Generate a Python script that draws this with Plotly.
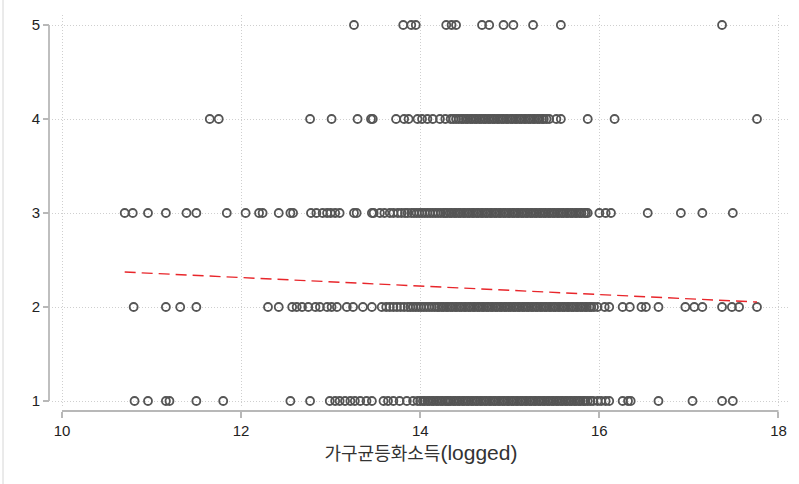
import plotly.graph_objects as go

# ---- data ----
x_level5 = [13.26, 13.81, 13.90, 13.95, 14.29, 14.35, 14.40, 14.69, 14.77, 14.93, 15.04, 15.26, 15.57, 17.37]

x_level4 = [11.65, 11.75, 12.77, 13.01, 13.30, 13.45, 13.47, 13.73, 13.82, 13.87, 13.97, 14.02, 14.08, 14.14, 14.22, 14.28,
            14.34, 14.37, 14.40, 14.43, 14.46, 14.48, 14.51, 14.53, 14.56, 14.58, 14.61, 14.63, 14.66, 14.68, 14.71, 14.73,
            14.76, 14.78, 14.81, 14.83, 14.86, 14.88, 14.91, 14.93, 14.96, 14.98, 15.01, 15.03, 15.06, 15.08, 15.11, 15.13,
            15.16, 15.18, 15.21, 15.23, 15.26, 15.28, 15.31, 15.33, 15.36, 15.38, 15.41, 15.44,
            15.52, 15.57, 15.87, 16.17, 17.76]

x_level3 = [10.70, 10.79, 10.96, 11.16, 11.39, 11.50, 11.84, 12.05, 12.20, 12.24, 12.42, 12.55, 12.58, 12.78, 12.84, 12.91,
            12.96, 13.00, 13.05, 13.10, 13.26, 13.29, 13.46, 13.48,
            13.55, 13.60, 13.66, 13.70, 13.75, 13.79, 13.83, 13.86, 13.90, 13.93, 13.96, 13.99, 14.02, 14.05, 14.08, 14.11,
            14.14, 14.17, 14.20, 14.23, 14.26, 14.28,
            14.30, 14.33, 14.35, 14.38, 14.40, 14.43, 14.45, 14.48, 14.50, 14.53, 14.55, 14.58, 14.60, 14.63, 14.65, 14.68,
            14.70, 14.73, 14.75, 14.78, 14.80, 14.83, 14.85, 14.88, 14.90, 14.93, 14.95, 14.98, 15.00, 15.03, 15.05, 15.08,
            15.10, 15.13, 15.15, 15.18, 15.20, 15.23, 15.25, 15.28, 15.30, 15.33, 15.35, 15.38, 15.40, 15.43, 15.45, 15.48,
            15.50, 15.53, 15.55, 15.58, 15.60, 15.63, 15.65, 15.68, 15.70, 15.73, 15.75, 15.78, 15.80, 15.83, 15.85, 15.87,
            16.00, 16.07, 16.13, 16.54, 16.91, 17.15, 17.49]

x_level2 = [10.80, 11.16, 11.32, 11.50, 12.30, 12.42, 12.57, 12.62, 12.68, 12.75, 12.83, 12.88, 12.96, 13.01, 13.07, 13.18,
            13.25, 13.36, 13.46, 13.57,
            13.62, 13.66, 13.70, 13.74, 13.78, 13.82, 13.86, 13.89, 13.92, 13.95, 13.98, 14.01, 14.04, 14.07, 14.10, 14.13,
            14.16, 14.19,
            14.21, 14.24, 14.26, 14.29, 14.31, 14.34, 14.36, 14.39, 14.41, 14.44, 14.46, 14.49, 14.51, 14.54, 14.56, 14.59,
            14.61, 14.64, 14.66, 14.69, 14.71, 14.74, 14.76, 14.79, 14.81, 14.84, 14.86, 14.89, 14.91, 14.94, 14.96, 14.99,
            15.01, 15.04, 15.06, 15.09, 15.11, 15.14, 15.16, 15.19, 15.21, 15.24, 15.26, 15.29, 15.31, 15.34, 15.36, 15.39,
            15.41, 15.44, 15.46, 15.49, 15.51, 15.54, 15.56, 15.59, 15.61, 15.64, 15.66, 15.69, 15.71, 15.74, 15.76, 15.79,
            15.81, 15.84, 15.86, 15.89, 15.91, 15.94,
            15.98, 16.06, 16.11, 16.26, 16.34, 16.47, 16.52, 16.66, 16.96, 17.06, 17.15, 17.37, 17.48, 17.56, 17.76]

x_level1 = [10.81, 10.96, 11.16, 11.20, 11.50, 11.80, 12.55, 12.77,
            12.99, 13.05, 13.10, 13.16, 13.22, 13.27, 13.33, 13.40, 13.46, 13.59, 13.64, 13.70, 13.77, 13.85, 13.92, 13.97,
            14.00, 14.03, 14.05, 14.08, 14.10, 14.13, 14.15, 14.18, 14.20, 14.23, 14.25, 14.28, 14.30, 14.32, 14.34, 14.37,
            14.39, 14.42, 14.44, 14.47, 14.49, 14.52, 14.54, 14.57, 14.59, 14.62, 14.64, 14.67, 14.69, 14.72, 14.74, 14.77,
            14.79, 14.82, 14.84, 14.87, 14.89, 14.92, 14.94, 14.97, 14.99, 15.02, 15.04, 15.07, 15.09, 15.12, 15.14, 15.17,
            15.19, 15.22, 15.24, 15.27, 15.29, 15.32, 15.34, 15.37, 15.39, 15.42, 15.44, 15.47, 15.49, 15.52, 15.54, 15.57,
            15.59, 15.62, 15.64, 15.67, 15.69, 15.72, 15.74, 15.77, 15.79, 15.82, 15.84, 15.87, 15.90,
            15.93, 15.98, 16.02, 16.07, 16.11, 16.26, 16.32, 16.35, 16.66, 17.04, 17.37, 17.49]

levels = [5, 4, 3, 2, 1]
x_by_level = [x_level5, x_level4, x_level3, x_level2, x_level1]

fit_x = [10.70, 17.76]
fit_y = [2.372, 2.053]

x_ticks = [10, 12, 14, 16, 18]
y_ticks = [1, 2, 3, 4, 5]
x_title_ko = "가구균등화소득"
x_title_en = "(logged)"

# ---- build ----
pts_x, pts_y = [], []
for lv, xs in zip(levels, x_by_level):
    pts_x += xs
    pts_y += [lv] * len(xs)

fig = go.Figure()
fig.add_trace(go.Scatter(
    x=pts_x, y=pts_y, mode="markers",
    marker=dict(symbol="circle-open", size=8, color="#555555", line=dict(width=1.8, color="#555555")),
    showlegend=False, hoverinfo="skip", cliponaxis=False))
fig.add_trace(go.Scatter(
    x=fit_x, y=fit_y, mode="lines",
    line=dict(color="#e8262b", width=1.4, dash="11px,6px"),
    showlegend=False, hoverinfo="skip"))

W, H = 799, 484
ml, mr, mt, mb = 49, 9, 15, 73
pw, ph = W - ml - mr, H - mt - mb

axis_col = "#b8b8b8"
grid_col = "#cfcfcf"
font_fam = "Liberation Sans, Arial, Noto Sans CJK KR, sans-serif"
title_text = ('<span style="font-family:\'Noto Sans CJK KR\';font-size:18px">' + x_title_ko + '</span>'
              '<span style="font-family:\'Liberation Sans\';font-size:21px">' + x_title_en + '</span>')

fig.update_layout(
    width=W, height=H,
    margin=dict(l=ml, r=mr, t=mt, b=mb, autoexpand=False),
    paper_bgcolor="white", plot_bgcolor="white",
    font=dict(family=font_fam, color="#222222", size=15),
    xaxis=dict(
        domain=[3 / pw, 1], range=[9.8883, 18.1287],
        anchor="free", position=0, automargin=False,
        tickvals=x_ticks, ticktext=[str(t) for t in x_ticks],
        ticks="outside", ticklen=6, tickwidth=1.5, tickcolor=axis_col,
        showline=False, zeroline=False,
        showgrid=True, gridcolor=grid_col, griddash="1px,2px", gridwidth=1,
        tickfont=dict(size=15, color="#222222"),
        title=dict(text=title_text, font=dict(size=19, color="#333333", family=font_fam), standoff=6),
    ),
    yaxis=dict(
        domain=[4 / ph, 1], range=[0.9362, 5.1064],
        anchor="free", position=0, automargin=False,
        tickvals=y_ticks, ticktext=[str(t) for t in y_ticks],
        ticks="outside", ticklen=6, tickwidth=1.5, tickcolor=axis_col,
        showline=False, zeroline=False,
        showgrid=True, gridcolor=grid_col, griddash="1px,2px", gridwidth=1,
        tickfont=dict(size=15, color="#222222"),
    ),
    shapes=[
        dict(type="line", xref="x", yref="paper", x0=x_ticks[0], x1=x_ticks[-1], y0=0, y1=0,
             line=dict(color=axis_col, width=1.8)),
        dict(type="line", xref="paper", yref="y", x0=0, x1=0, y0=y_ticks[0], y1=y_ticks[-1],
             line=dict(color=axis_col, width=1.8)),
        dict(type="line", xref="paper", yref="paper", x0=(3 - ml) / pw, x1=(3 - ml) / pw,
             y0=-(mb) / ph, y1=(ph + mt) / ph, line=dict(color="#d6d6d6", width=1)),
    ],
)

fig.write_html("out.html", config={"displayModeBar": False},
               post_script="document.body.style.margin='0px';")
